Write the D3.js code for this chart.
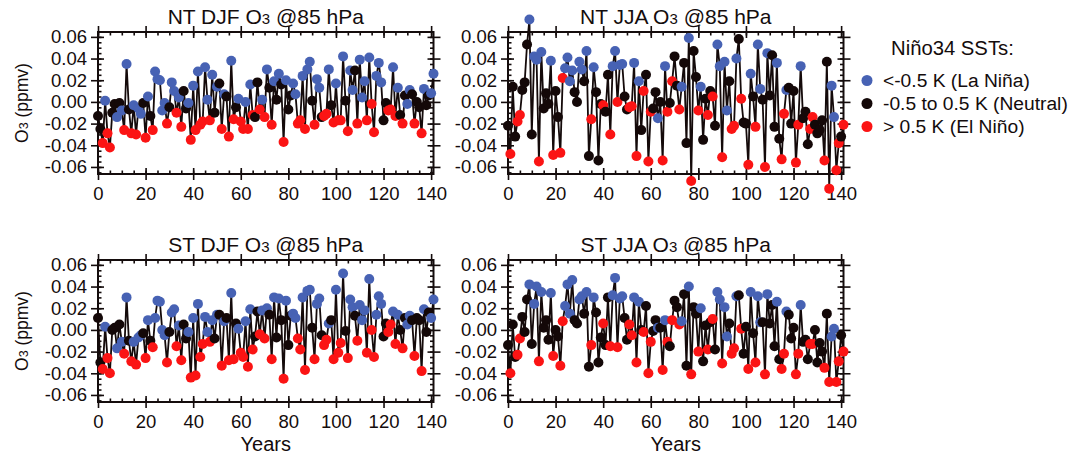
<!DOCTYPE html>
<html>
<head>
<meta charset="utf-8">
<script src="https://cdn.jsdelivr.net/npm/d3@7"></script>
<style>
  body { margin: 0; background: #fff; }
  text { font-family: "Liberation Sans", Arial, Helvetica, sans-serif; fill: #140c0c; }
</style>
</head>
<body>
<script>
// ENSO phase per year (b = La Nina, k = neutral, r = El Nino), shared by NT and ST
const djfPhase = ("kkrbrrkkbk" + "brbkrbrbbk" + "rbkrbbbbbr" + "kbbrbrkkbr" + "brbrrbbrbk" +
                  "bkrbkrbrkb" + "rrbrbrkkrb" + "rbkrbkbkrb" + "kkbbrrbrbb" + "krbbkrrbkr" +
                  "brrbkrbbkr" + "bbbrbrrbbb" + "kkrrbrbkrk" + "bbkrkkrbkk" + "bb").split("");
const jjaPhase = ("krkkrrkkkb" + "kbbrbkkkbr" + "kkrrbbbbkk" + "bbkbkrbkkk" + "rkkrbbrbbk" +
                  "krrbrbkrkr" + "rkkbkrbrkr" + "kkrbkkbrkk" + "rbkkrkrkbb" + "rbbkrrbkrk" +
                  "krbkrbbkrb" + "kkkbkrrbkk" + "krrbkkkrrk" + "kkkrkrbbrr" + "kr").split("");

// O3 anomalies (ppmv), years 0..141
const ntDjf = [-0.013,-0.025,-0.038,0.001,-0.029,-0.042,-0.010,-0.002,-0.014,-0.001,
  -0.008,-0.026,0.035,-0.007,-0.029,-0.003,-0.030,-0.006,-0.011,-0.001,
  -0.033,0.005,-0.013,-0.026,0.028,0.021,0.020,-0.008,-0.001,-0.020,
  -0.005,0.018,0.010,-0.010,0.004,-0.023,0.010,-0.006,-0.001,-0.035,
  0.015,-0.026,0.028,-0.021,-0.018,0.032,0.002,-0.017,0.025,-0.010,
  0.014,0.017,-0.025,0.007,0.005,-0.032,0.038,-0.016,-0.005,0.003,
  -0.018,-0.025,0.000,-0.025,0.016,-0.012,-0.014,0.018,-0.007,0.002,
  -0.014,0.030,0.013,-0.021,0.019,0.002,0.026,0.016,-0.037,0.020,
  -0.007,0.006,0.017,0.007,-0.020,-0.017,0.024,-0.025,0.030,0.037,
  0.001,-0.021,0.021,0.013,-0.014,-0.013,-0.011,0.030,-0.003,-0.019,
  0.017,-0.017,-0.017,0.042,0.001,-0.027,0.029,0.011,0.029,-0.020,
  0.039,0.004,0.019,-0.017,0.041,-0.002,-0.028,0.024,0.036,0.018,
  -0.017,-0.001,-0.008,-0.007,0.032,-0.013,0.013,-0.012,-0.020,0.006,
  -0.002,0.011,0.007,-0.020,0.000,-0.005,-0.029,0.012,-0.003,0.006,
  0.008,0.026];

const ntJja = [-0.022,-0.048,0.014,-0.032,-0.018,-0.012,0.011,0.018,0.053,0.076,
  -0.030,0.042,0.039,-0.055,0.046,-0.006,0.008,-0.002,0.038,-0.049,
  0.010,-0.014,-0.047,0.022,0.031,0.041,0.019,0.029,0.009,0.000,
  0.037,0.030,0.019,0.047,-0.050,-0.016,0.032,0.009,-0.054,-0.002,
  -0.003,-0.009,0.025,-0.030,0.033,0.047,0.000,0.034,0.035,0.005,
  -0.007,-0.005,-0.004,0.036,-0.050,0.019,-0.026,0.010,0.025,-0.055,
  -0.009,-0.006,0.009,-0.015,0.000,-0.054,0.033,-0.009,-0.001,0.019,
  0.042,0.015,-0.007,0.014,0.036,-0.038,0.059,-0.073,0.047,0.023,
  -0.008,0.014,-0.035,0.003,-0.012,0.010,0.005,-0.022,0.053,0.033,
  -0.051,0.037,-0.008,0.019,-0.025,-0.022,0.040,0.058,0.003,-0.019,
  -0.020,-0.058,0.026,0.005,-0.023,0.053,0.012,0.002,-0.060,0.045,
  0.006,0.043,-0.023,0.036,-0.034,-0.053,-0.011,0.011,0.013,-0.020,
  0.010,-0.056,-0.021,0.033,-0.015,-0.009,-0.039,-0.025,-0.014,-0.021,
  -0.029,-0.026,-0.017,-0.054,0.037,-0.080,0.015,-0.014,-0.063,-0.038,
  -0.032,-0.021];

const stDjf = [0.011,-0.030,-0.036,0.003,-0.026,-0.040,0.000,0.002,-0.017,0.005,
  -0.011,-0.022,0.030,-0.010,-0.029,-0.011,-0.032,-0.007,-0.005,-0.003,
  -0.026,0.009,-0.010,-0.016,0.011,0.027,0.026,0.000,-0.005,-0.030,
  -0.002,0.016,0.019,-0.015,0.004,-0.028,0.005,-0.008,-0.002,-0.044,
  0.011,-0.042,0.024,-0.025,-0.013,0.012,-0.002,-0.011,0.009,-0.008,
  0.014,0.014,-0.033,0.008,0.011,-0.028,0.034,-0.027,0.006,0.001,
  -0.021,-0.025,0.008,-0.034,0.019,-0.018,-0.006,0.017,-0.004,0.018,
  -0.008,0.020,0.014,-0.027,0.030,-0.007,0.029,0.009,-0.045,0.027,
  -0.014,0.013,0.015,0.011,-0.008,-0.018,0.030,-0.037,0.036,0.037,
  0.002,-0.027,0.024,0.029,-0.005,-0.014,-0.009,0.006,0.009,-0.027,
  0.037,-0.021,-0.012,0.052,-0.001,-0.026,0.028,0.021,0.013,-0.010,
  0.023,0.009,0.018,-0.021,0.047,0.000,-0.025,0.014,0.031,0.024,
  -0.006,0.006,-0.002,0.005,0.017,-0.013,0.014,0.000,-0.017,0.011,
  0.005,0.013,0.009,-0.024,0.011,0.009,-0.038,0.019,-0.002,0.016,
  0.011,0.028];

const stJja = [-0.014,-0.040,0.005,-0.025,-0.023,-0.008,0.012,-0.002,0.028,0.042,
  -0.013,0.024,0.040,-0.029,0.035,0.002,0.009,-0.009,0.034,-0.024,
  0.000,-0.006,-0.033,0.008,0.022,0.042,0.015,0.046,0.009,0.006,
  0.028,0.031,0.015,0.035,-0.034,-0.014,0.030,0.016,-0.030,-0.007,
  0.006,-0.014,0.030,-0.015,0.032,0.048,-0.016,0.029,0.031,0.011,
  -0.009,0.005,-0.005,0.030,-0.030,0.026,0.000,-0.002,0.022,-0.040,
  -0.011,-0.001,0.009,0.002,0.002,-0.037,0.009,-0.011,-0.015,0.009,
  0.027,0.021,0.005,0.008,0.033,-0.033,0.040,-0.041,0.021,0.015,
  -0.020,0.020,-0.029,0.004,-0.018,0.007,0.010,-0.018,0.035,0.028,
  -0.031,0.021,-0.006,0.006,-0.022,-0.017,0.031,0.032,0.001,-0.022,
  0.003,-0.036,0.035,-0.003,-0.030,0.031,0.007,0.007,-0.041,0.033,
  0.006,0.023,-0.015,0.026,-0.027,-0.036,-0.022,0.017,0.014,-0.008,
  0.002,-0.041,-0.022,0.023,-0.011,-0.009,-0.027,-0.013,-0.013,0.000,
  -0.030,-0.012,-0.020,-0.035,0.015,-0.048,-0.006,0.001,-0.048,-0.029,
  -0.005,-0.020];

const xTicks = [0, 20, 40, 60, 80, 100, 120, 140];
const yTicks = [-0.06, -0.04, -0.02, 0, 0.02, 0.04, 0.06];
const legendLabels = ["<-0.5 K (La Niña)", "-0.5 to 0.5 K (Neutral)", "> 0.5 K (El Niño)"];
const phaseColor = { b: "#4762b4", k: "#140808", r: "#fb1414" };

var w = 1084, h = 454;
    panelW = 335.5;
    panelH = 142;

var svg = d3.select("body").append("svg")
    .attr("width", w)
    .attr("height", h);

const x = d3.scaleLinear().domain([0, 141]).range([0, panelW]);
const y = d3.scaleLinear().domain([-0.0665, 0.0645]).range([panelH, 0]);

const panels = [
  { region: "NT", season: "DJF", vals: ntDjf, phase: djfPhase, left: 98, top: 32 },
  { region: "NT", season: "JJA", vals: ntJja, phase: jjaPhase, left: 508, top: 32 },
  { region: "ST", season: "DJF", vals: stDjf, phase: djfPhase, left: 98, top: 260 },
  { region: "ST", season: "JJA", vals: stJja, phase: jjaPhase, left: 508, top: 260 }
];

const minorX = d3.range(0, 142, 5);
const minorY = d3.range(-0.065, 0.0651, 0.005).map(v => +v.toFixed(3));

// NCL style axis: majors stick out and in, minors only in
const styleAxis = (g) => {
  g.select(".domain").remove();
  g.selectAll("line").attr("stroke", "#140c0c").attr("stroke-width", 1.6);
};

panels.forEach((p, pi) => {
  const g = svg.append("g").attr("transform", `translate(${p.left},${p.top})`);

  // minor ticks (inward)
  g.append("g").attr("transform", `translate(0,${panelH})`)
    .call(d3.axisBottom(x).tickValues(minorX).tickSize(-3.5).tickFormat("")).call(styleAxis);
  g.append("g")
    .call(d3.axisTop(x).tickValues(minorX).tickSize(-3.5).tickFormat("")).call(styleAxis);
  g.append("g")
    .call(d3.axisLeft(y).tickValues(minorY).tickSize(-3.5).tickFormat("")).call(styleAxis);
  g.append("g").attr("transform", `translate(${panelW},0)`)
    .call(d3.axisRight(y).tickValues(minorY).tickSize(-3.5).tickFormat("")).call(styleAxis);

  // major ticks inward
  g.append("g").attr("transform", `translate(0,${panelH})`)
    .call(d3.axisBottom(x).tickValues(xTicks).tickSize(-6).tickFormat("")).call(styleAxis);
  g.append("g")
    .call(d3.axisTop(x).tickValues(xTicks).tickSize(-6).tickFormat("")).call(styleAxis);
  g.append("g")
    .call(d3.axisLeft(y).tickValues(yTicks).tickSize(-6).tickFormat("")).call(styleAxis);
  g.append("g").attr("transform", `translate(${panelW},0)`)
    .call(d3.axisRight(y).tickValues(yTicks).tickSize(-6).tickFormat("")).call(styleAxis);

  // major ticks outward, with labels on bottom and left
  const xb = g.append("g").attr("transform", `translate(0,${panelH})`)
    .call(d3.axisBottom(x).tickValues(xTicks).tickSize(6).tickPadding(7).tickFormat(d3.format("d")));
  xb.call(styleAxis);
  xb.selectAll("text").attr("font-size", 18.5).attr("fill", "#140c0c");

  g.append("g")
    .call(d3.axisTop(x).tickValues(xTicks).tickSize(6).tickFormat("")).call(styleAxis);

  const yl = g.append("g")
    .call(d3.axisLeft(y).tickValues(yTicks).tickSize(7).tickPadding(4).tickFormat(v => v.toFixed(2)));
  yl.call(styleAxis);
  yl.selectAll("text").attr("font-size", 18.5).attr("fill", "#140c0c");

  g.append("g").attr("transform", `translate(${panelW},0)`)
    .call(d3.axisRight(y).tickValues(yTicks).tickSize(7).tickFormat("")).call(styleAxis);

  // frame
  g.append("rect")
    .attr("width", panelW).attr("height", panelH)
    .attr("fill", "none").attr("stroke", "#140c0c").attr("stroke-width", 2);

  // title
  const t = g.append("text")
    .attr("x", panelW / 2).attr("y", -8)
    .attr("text-anchor", "middle")
    .attr("font-size", 21);
  t.append("tspan").text(`${p.region} ${p.season} O`);
  t.append("tspan").attr("font-size", 15).text("3");
  t.append("tspan").text(" @85 hPa");

  // line + markers
  const pts = p.vals.map((v, i) => ({ year: i, val: v, phase: p.phase[i] }));
  g.append("path")
    .datum(pts)
    .attr("fill", "none")
    .attr("stroke", "#140a0a")
    .attr("stroke-width", 1.8)
    .attr("d", d3.line().x(d => x(d.year)).y(d => y(d.val)));

  g.selectAll("circle.pt")
    .data(pts)
    .enter().append("circle")
    .attr("class", "pt")
    .attr("cx", d => x(d.year))
    .attr("cy", d => y(d.val))
    .attr("r", 5)
    .attr("fill", d => phaseColor[d.phase]);

  // y title on left column
  if (p.left < 300) {
    const yt = svg.append("text")
      .attr("transform", `translate(28,${p.top + panelH / 2}) rotate(-90)`)
      .attr("text-anchor", "middle")
      .attr("font-size", 17.5);
    yt.append("tspan").text("O");
    yt.append("tspan").attr("font-size", 12.5).text("3");
    yt.append("tspan").text(" (ppmv)");
  }

  // x title on bottom row
  if (p.top > 200) {
    svg.append("text")
      .attr("x", p.left + panelW / 2).attr("y", 451)
      .attr("text-anchor", "middle")
      .attr("font-size", 20)
      .text("Years");
  }
});

// legend
const leg = svg.append("g");
const legTitle = leg.append("text")
  .attr("x", 891).attr("y", 55)
  .attr("font-size", 19.5)
  .text("Niño34 SSTs:");

const legTexts = ["b", "k", "r"].map((ph, i) => {
  leg.append("circle")
    .attr("cx", 867).attr("cy", 80.5 + i * 23)
    .attr("r", 5.5)
    .attr("fill", phaseColor[ph]);
  return leg.append("text")
    .attr("x", 883).attr("y", 87 + i * 23)
    .attr("font-size", 18.5)
    .text(legendLabels[i]);
});

// the widest legend line runs from x=883 to about x=1068 in the original
const neutralLen = legTexts[1].node().getComputedTextLength();
if (neutralLen > 0) {
  const k = 185 / neutralLen;
  legTexts.forEach(t => t.attr("font-size", 18.5 * k));
  legTitle.attr("font-size", 19.5 * k);
}
</script>
</body>
</html>
